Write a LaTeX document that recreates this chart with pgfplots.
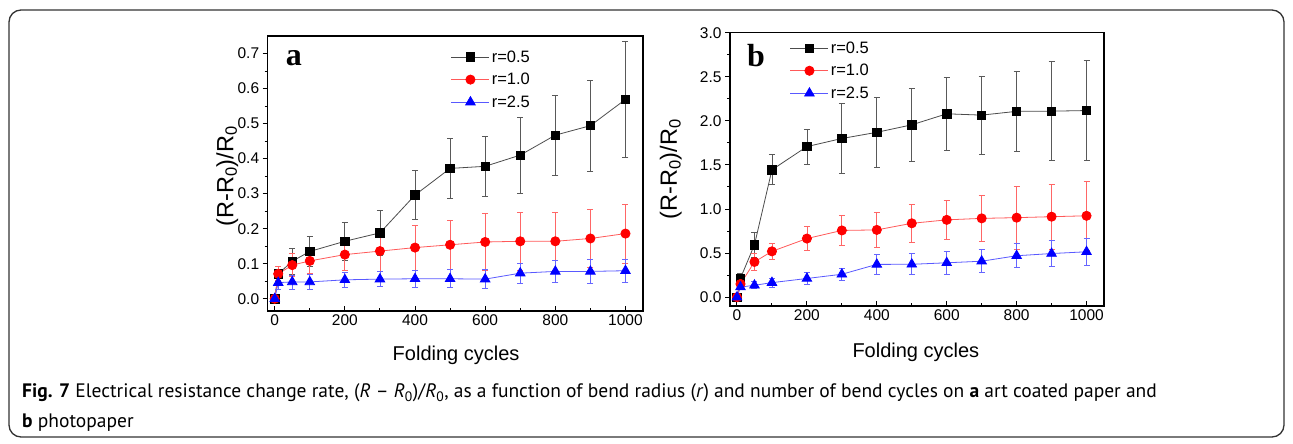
\documentclass[border=0pt]{standalone}
\usepackage{pgfplots}
\pgfplotsset{compat=1.18}
\usepackage{fontspec}
\setmainfont{Liberation Sans}
\newfontfamily\capfont{PT Sans}
\newfontfamily\letterfont{Liberation Serif}

\pgfplotsset{
  panel/.style={
    scale only axis, xmin=-20, xmax=1050,
    xtick={0,200,...,1000}, minor x tick num=1, minor y tick num=1,
    xtick pos=bottom, ytick pos=left,
    xtick align=inside, ytick align=outside,
    major tick length=5pt, minor tick length=3pt,
    every tick/.style={line width=1pt, black},
    axis line style={line width=1.4pt},
    tick label style={font=\fontsize{15.5}{15.5}\selectfont},
    /pgf/number format/assume math mode=true,
    xticklabel style={/pgf/number format/1000 sep={}},
    yticklabel style={/pgf/number format/.cd, fixed, fixed zerofill, precision=1},
    label style={font=\fontsize{20}{20}\selectfont},
    ylabel style={font=\fontsize{23.5}{23.5}\selectfont},
    xlabel={Folding cycles},
    ylabel={(R-R\textsubscript{0})/R\textsubscript{0}},
    legend style={draw=none, fill=none, font=\fontsize{16.5}{16.5}\selectfont,
      anchor=north west, inner sep=0pt, row sep=5.5pt},
    legend cell align=left,
    legend image code/.code={
      \draw[mark repeat=2, mark phase=2] plot coordinates {(0pt,0pt) (19pt,0pt) (38pt,0pt)};},
  },
  s05/.style={black!70, line width=0.8pt, mark=square*, mark size=4.2pt,
    mark options={fill=black, draw=black},
    error bars/.cd, y dir=both, y explicit,
    error bar style={black!65, line width=0.8pt},
    error mark options={rotate=90, mark size=3pt, black!65, line width=0.8pt}},
  s10/.style={red!65, line width=0.8pt, mark=*, mark size=4.6pt,
    mark options={fill=red, draw=red},
    error bars/.cd, y dir=both, y explicit,
    error bar style={red!60, line width=0.8pt},
    error mark options={rotate=90, mark size=3pt, red!60, line width=0.8pt}},
  s25/.style={blue!65, line width=0.8pt, mark=triangle*, mark size=5.5pt,
    mark options={fill=blue, draw=blue},
    error bars/.cd, y dir=both, y explicit,
    error bar style={blue!60, line width=0.8pt},
    error mark options={rotate=90, mark size=3pt, blue!60, line width=0.8pt}},
}

\begin{document}
\begin{tikzpicture}[x=1pt,y=1pt]
\useasboundingbox (0,0) rectangle (1293,444);
\draw[rounded corners=12pt, line width=1.3pt, black!80] (9,7) rectangle (1284,434);

% panel a
\begin{axis}[panel, at={(267.7pt,133pt)}, anchor=south west,
  width=375.3pt, height=275pt,
  ymin=-0.035, ymax=0.75, ytick={0,0.1,...,0.71},
  ylabel style={at={(axis description cs:-0.108,0.49)}, anchor=center},
  xlabel style={at={(axis description cs:0.502,-0.16)}, anchor=center},
  legend style={at={(axis description cs:0.488,0.955)}}]
\addplot[s05] coordinates {
  (0,0) +- (0,0) (10,0.071) +- (0,0.022) (50,0.107) +- (0,0.038)
  (100,0.135) +- (0,0.043) (200,0.164) +- (0,0.055) (300,0.188) +- (0,0.063)
  (400,0.296) +- (0,0.070) (500,0.372) +- (0,0.086) (600,0.378) +- (0,0.085)
  (700,0.410) +- (0,0.109) (800,0.467) +- (0,0.114) (900,0.494) +- (0,0.130)
  (1000,0.569) +- (0,0.165)};
\addlegendentry{r=0.5}
\addplot[s10] coordinates {
  (0,0) +- (0,0) (10,0.071) +- (0,0.020) (50,0.096) +- (0,0.033)
  (100,0.108) +- (0,0.035) (200,0.126) +- (0,0.045) (300,0.136) +- (0,0.058)
  (400,0.146) +- (0,0.064) (500,0.154) +- (0,0.070) (600,0.162) +- (0,0.081)
  (700,0.164) +- (0,0.082) (800,0.164) +- (0,0.082) (900,0.172) +- (0,0.083)
  (1000,0.186) +- (0,0.084)};
\addlegendentry{r=1.0}
\addplot[s25] coordinates {
  (0,0) +- (0,0) (10,0.046) +- (0,0.018) (50,0.048) +- (0,0.020)
  (100,0.048) +- (0,0.021) (200,0.054) +- (0,0.021) (300,0.056) +- (0,0.022)
  (400,0.057) +- (0,0.024) (500,0.057) +- (0,0.026) (600,0.056) +- (0,0.027)
  (700,0.073) +- (0,0.028) (800,0.078) +- (0,0.032) (900,0.078) +- (0,0.034)
  (1000,0.080) +- (0,0.033)};
\addlegendentry{r=2.5}
\node[font=\letterfont\bfseries\fontsize{32}{32}\selectfont, inner sep=0pt]
  at (axis description cs:0.07,0.92) {a};
\end{axis}

% panel b
\begin{axis}[panel, at={(730pt,138pt)}, anchor=south west,
  width=374pt, height=273.3pt,
  ymin=-0.1, ymax=3.0, ytick={0,0.5,...,3.01},
  ylabel style={at={(axis description cs:-0.158,0.5)}, anchor=center},
  xlabel style={at={(axis description cs:0.497,-0.168)}, anchor=center},
  legend style={at={(axis description cs:0.16,0.975)}}]
\addplot[s05] coordinates {
  (0,0) +- (0,0) (10,0.215) +- (0,0.05) (50,0.595) +- (0,0.14)
  (100,1.445) +- (0,0.17) (200,1.708) +- (0,0.20) (300,1.80) +- (0,0.40)
  (400,1.87) +- (0,0.40) (500,1.955) +- (0,0.41) (600,2.08) +- (0,0.41)
  (700,2.065) +- (0,0.44) (800,2.108) +- (0,0.455) (900,2.11) +- (0,0.56)
  (1000,2.117) +- (0,0.566)};
\addlegendentry{r=0.5}
\addplot[s10] coordinates {
  (0,0) +- (0,0) (10,0.15) +- (0,0.04) (50,0.40) +- (0,0.10)
  (100,0.52) +- (0,0.095) (200,0.665) +- (0,0.136) (300,0.757) +- (0,0.17)
  (400,0.763) +- (0,0.20) (500,0.838) +- (0,0.22) (600,0.877) +- (0,0.223)
  (700,0.894) +- (0,0.26) (800,0.902) +- (0,0.36) (900,0.913) +- (0,0.37)
  (1000,0.923) +- (0,0.39)};
\addlegendentry{r=1.0}
\addplot[s25] coordinates {
  (0,0) +- (0,0) (10,0.115) +- (0,0.03) (50,0.135) +- (0,0.04)
  (100,0.165) +- (0,0.05) (200,0.212) +- (0,0.065) (300,0.26) +- (0,0.07)
  (400,0.372) +- (0,0.11) (500,0.373) +- (0,0.12) (600,0.39) +- (0,0.13)
  (700,0.408) +- (0,0.13) (800,0.47) +- (0,0.135) (900,0.495) +- (0,0.15)
  (1000,0.515) +- (0,0.15)};
\addlegendentry{r=2.5}
\node[font=\letterfont\bfseries\fontsize{32}{32}\selectfont, inner sep=0pt]
  at (axis description cs:0.0695,0.915) {b};
\end{axis}

\node[anchor=base west, inner sep=0pt, font=\capfont\fontsize{19.5}{19.5}\selectfont]
  at (22,46) {\textbf{Fig. 7} Electrical resistance change rate, (\textit{R} – \textit{R}\textsubscript{0})/\textit{R}\textsubscript{0}, as a function of bend radius (\textit{r}) and number of bend cycles on \textbf{a} art coated paper and};
\node[anchor=base west, inner sep=0pt, font=\capfont\fontsize{19.5}{19.5}\selectfont]
  at (22,16) {\textbf{b} photopaper};
\end{tikzpicture}
\end{document}
